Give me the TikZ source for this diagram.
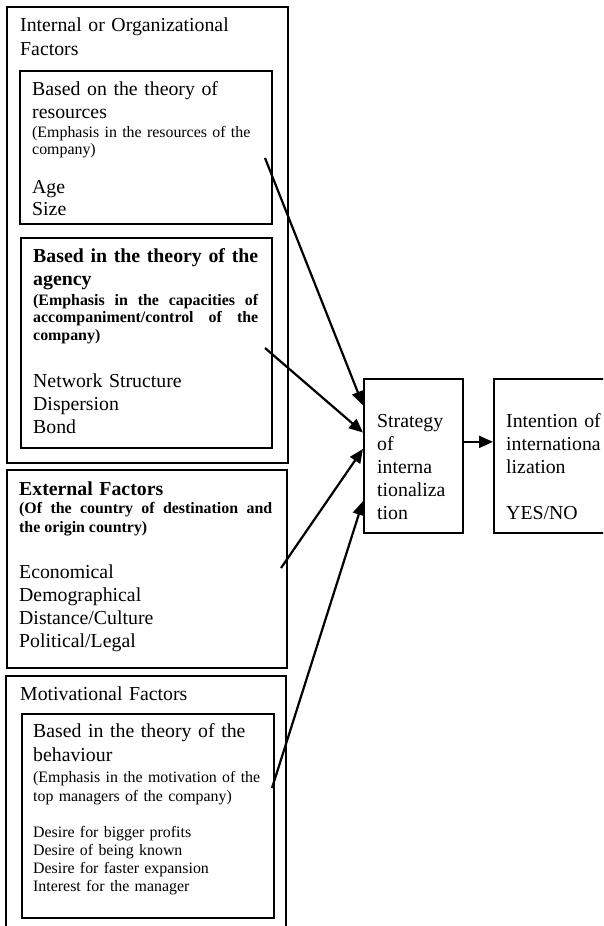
\documentclass[tikz,border=0pt]{standalone}
\usepackage{fontspec}
\setmainfont{Liberation Serif}
\usetikzlibrary{arrows.meta,calc}

\tikzset{
  factorbox/.style={draw, line width=1.8pt, inner sep=0pt, anchor=north west},
  bigtext/.style={inner sep=0pt, anchor=base west, align=left,
    font=\fontsize{19.8}{23}\selectfont},
  smalltext/.style={inner sep=0pt, anchor=base west, align=left,
    font=\fontsize{15.9}{18}\selectfont},
  boldnote/.style={inner sep=0pt, anchor=base west, align=justify,
    font=\fontsize{15.9}{17.5}\selectfont\bfseries},
  flow/.style={-{Triangle[length=14pt,width=12pt]}, line width=2.2pt}
}

\begin{document}
\begin{tikzpicture}[x=1pt, y=-1pt]

\clip (0,0) rectangle (603,926);

%--------------------
% Internal or organizational factors
%--------------------
\node[factorbox, minimum width=281pt, minimum height=456pt] (internal) at (6,6) {};
\node[bigtext, text width=260pt, font=\fontsize{19.8}{24}\selectfont] (intTitle) at (20,31)
  {Internal or Organizational\\Factors};

% resources
\node[factorbox, minimum width=252pt, minimum height=153pt] (resources) at (19,70) {};
\node[bigtext, text width=235pt] (resHead) at (32,95) {Based on the theory of\\resources};
\node[smalltext, text width=235pt, font=\fontsize{15.9}{17}\selectfont] (resNote) at (32,137)
  {(Emphasis in the resources of the\\company)};
\node[bigtext, text width=235pt, font=\fontsize{19.8}{22}\selectfont] (resList) at (32,193) {Age\\Size};

% agency
\node[factorbox, minimum width=251pt, minimum height=210pt] (agency) at (20,237) {};
\node[bigtext, text width=225pt, align=justify, font=\fontsize{19.8}{23}\selectfont\bfseries] (agHead) at (33,262)
  {Based in the theory of the\linebreak agency};
\node[boldnote, text width=225pt] (agNote) at (33,305)
  {(Emphasis in the capacities of\linebreak accompaniment/control of the\linebreak company)};
\node[bigtext, text width=225pt] (agList) at (33,387) {Network Structure\\Dispersion\\Bond};

%--------------------
% External factors
%--------------------
\node[factorbox, minimum width=280pt, minimum height=198pt] (external) at (6,469) {};
\node[bigtext, text width=253pt, font=\fontsize{19.8}{23}\selectfont\bfseries] (extHead) at (19,495)
  {External Factors};
\node[boldnote, text width=253pt, font=\fontsize{15.9}{19}\selectfont\bfseries] (extNote) at (19,513)
  {(Of the country of destination and\linebreak the origin country)};
\node[bigtext, text width=253pt] (extList) at (19,578)
  {Economical\\Demographical\\Distance/Culture\\Political/Legal};

%--------------------
% Motivational factors
%--------------------
\node[factorbox, minimum width=280pt, minimum height=260pt] (motivational) at (5,675) {};
\node[bigtext, text width=260pt] (motTitle) at (20,700) {Motivational Factors};

% behaviour
\node[factorbox, minimum width=252pt, minimum height=204pt] (behaviour) at (21,713) {};
\node[bigtext, text width=235pt, font=\fontsize{19.8}{24}\selectfont] (behHead) at (33,737)
  {Based in the theory of the\\behaviour};
\node[smalltext, text width=235pt, font=\fontsize{15.9}{19}\selectfont] (behNote) at (33,782)
  {(Emphasis in the motivation of the\\top managers of the company)};
\node[smalltext, text width=235pt, font=\fontsize{15.9}{18.3}\selectfont] (behList) at (33,837)
  {Desire for bigger profits\\Desire of being known\\Desire for faster expansion\\Interest for the manager};

%--------------------
% Strategy and intention
%--------------------
\node[factorbox, minimum width=99pt, minimum height=154pt] (strategy) at (363,378) {};
\node[bigtext, text width=85pt] (stratText) at (377,427)
  {Strategy\\of\\interna\\tionaliza\\tion};

\node[factorbox, minimum width=130pt, minimum height=154pt] (intention) at (493,378) {};
\node[bigtext, text width=110pt] (intText) at (506,427)
  {Intention of\\internationa\\lization\\[23pt]YES/NO};

% arrow tails inside the factor boxes
\coordinate (resTail) at (265,158);
\coordinate (agTail) at (265,348);
\coordinate (extTail) at (281,568);
\coordinate (motTail) at (272,788);
\coordinate (stratOut) at ($(strategy.north east)!0.41!(strategy.south east)$);

\draw[flow] (resTail) -- ($(strategy.north west)!0.175!(strategy.south west)$);
\draw[flow] (agTail) -- ($(strategy.north west)!0.35!(strategy.south west)$);
\draw[flow] (extTail) -- ($(strategy.north west)!0.455!(strategy.south west)$);
\draw[flow] (motTail) -- ($(strategy.north west)!0.79!(strategy.south west)$);
\draw[flow] (stratOut) -- (stratOut -| intention.west);

\end{tikzpicture}
\end{document}
